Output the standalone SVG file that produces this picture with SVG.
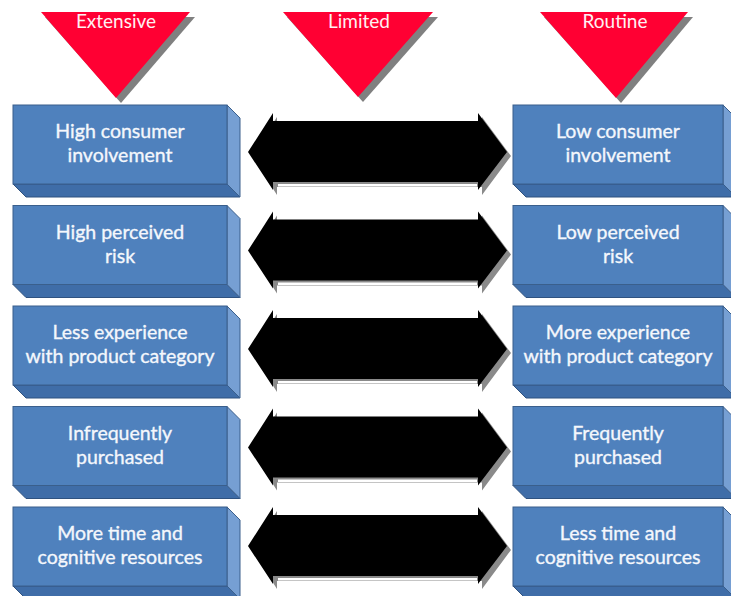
<svg xmlns="http://www.w3.org/2000/svg" xmlns:xlink="http://www.w3.org/1999/xlink" width="731" height="596" viewBox="0 0 731 596">
<style>
.tri{fill:#FF0033}
.trish{fill:#808080}
.tl{font-family:Lato,"Liberation Sans",sans-serif;font-size:19px;fill:#FFF0F2;text-anchor:middle}
.front{fill:#4F81BD;stroke:#3A5F8C;stroke-width:1}
.side{fill:#769FD3;stroke:#3A5F8C;stroke-width:1}
.bot{fill:#3F6DA8;stroke:#2F5280;stroke-width:1}
.bt{font-family:Lato,"Liberation Sans",sans-serif;font-size:19.5px;fill:#F4F7FC;stroke:#F4F7FC;stroke-width:0.35;text-anchor:middle}
.arr{fill:#000}
.arrsh{fill:#8A8A8A}
.arrln{fill:#FFFFFF}
</style>
<defs>
<g id="lbox">
<polygon class="bot" points="13,79 227,79 240,92 26,92"/>
<polygon class="side" points="227,0 240,13 240,92 227,79"/>
<rect class="front" x="13" y="0" width="214" height="79"/>
</g>
<g id="rbox">
<polygon class="bot" points="513,79 723,79 736,92 526,92"/>
<polygon class="side" points="723,0 736,13 736,92 723,79"/>
<rect class="front" x="513" y="0" width="210" height="79"/>
</g>
<g id="arrow">
<polygon class="arrsh" points="252,4 277,-35 277,-27 482,-27 482,-35 511,4 482,43 482,35 277,35 277,43"/>
<rect class="arrln" x="278" y="32" width="199" height="2.5"/>
<polygon class="arr" points="248,0 273,-39 273,-31 478,-31 478,-39 507,0 478,38 478,30 273,30 273,38"/>
</g>
</defs>
<g id="tri-extensive">
<polygon class="trish" points="45,17 195,17 121,103"/>
<polygon class="tri" points="41,12 190,12 116,98"/>
<text class="tl" x="116" y="28">Extensive</text>
</g>
<g id="tri-limited">
<polygon class="trish" points="287,17 438,17 363,102"/>
<polygon class="tri" points="283,12 433,12 358,97"/>
<text class="tl" x="359" y="28">Limited</text>
</g>
<g id="tri-routine">
<polygon class="trish" points="544,17 693,17 621,103"/>
<polygon class="tri" points="540,12 688,12 616,98"/>
<text class="tl" x="615" y="28">Routine</text>
</g>
<g id="connectors">
<use xlink:href="#arrow" transform="translate(0,152)"/>
<use xlink:href="#arrow" transform="translate(0,250.5)"/>
<use xlink:href="#arrow" transform="translate(0,349)"/>
<use xlink:href="#arrow" transform="translate(0,447.5)"/>
<use xlink:href="#arrow" transform="translate(0,546)"/>
</g>
<g id="l1" transform="translate(0,105)"><use xlink:href="#lbox"/><text class="bt" x="120" y="33">High consumer</text><text class="bt" x="120" y="57">involvement</text></g>
<g id="l2" transform="translate(0,205.5)"><use xlink:href="#lbox"/><text class="bt" x="120" y="33">High perceived</text><text class="bt" x="120" y="57">risk</text></g>
<g id="l3" transform="translate(0,306)"><use xlink:href="#lbox"/><text class="bt" x="120" y="33">Less experience</text><text class="bt" x="120" y="57">with product category</text></g>
<g id="l4" transform="translate(0,406.5)"><use xlink:href="#lbox"/><text class="bt" x="120" y="33">Infrequently</text><text class="bt" x="120" y="57">purchased</text></g>
<g id="l5" transform="translate(0,507)"><use xlink:href="#lbox"/><text class="bt" x="120" y="33">More time and</text><text class="bt" x="120" y="57">cognitive resources</text></g>
<g id="r1" transform="translate(0,105)"><use xlink:href="#rbox"/><text class="bt" x="618" y="33">Low consumer</text><text class="bt" x="618" y="57">involvement</text></g>
<g id="r2" transform="translate(0,205.5)"><use xlink:href="#rbox"/><text class="bt" x="618" y="33">Low perceived</text><text class="bt" x="618" y="57">risk</text></g>
<g id="r3" transform="translate(0,306)"><use xlink:href="#rbox"/><text class="bt" x="618" y="33">More experience</text><text class="bt" x="618" y="57">with product category</text></g>
<g id="r4" transform="translate(0,406.5)"><use xlink:href="#rbox"/><text class="bt" x="618" y="33">Frequently</text><text class="bt" x="618" y="57">purchased</text></g>
<g id="r5" transform="translate(0,507)"><use xlink:href="#rbox"/><text class="bt" x="618" y="33">Less time and</text><text class="bt" x="618" y="57">cognitive resources</text></g>
</svg>
